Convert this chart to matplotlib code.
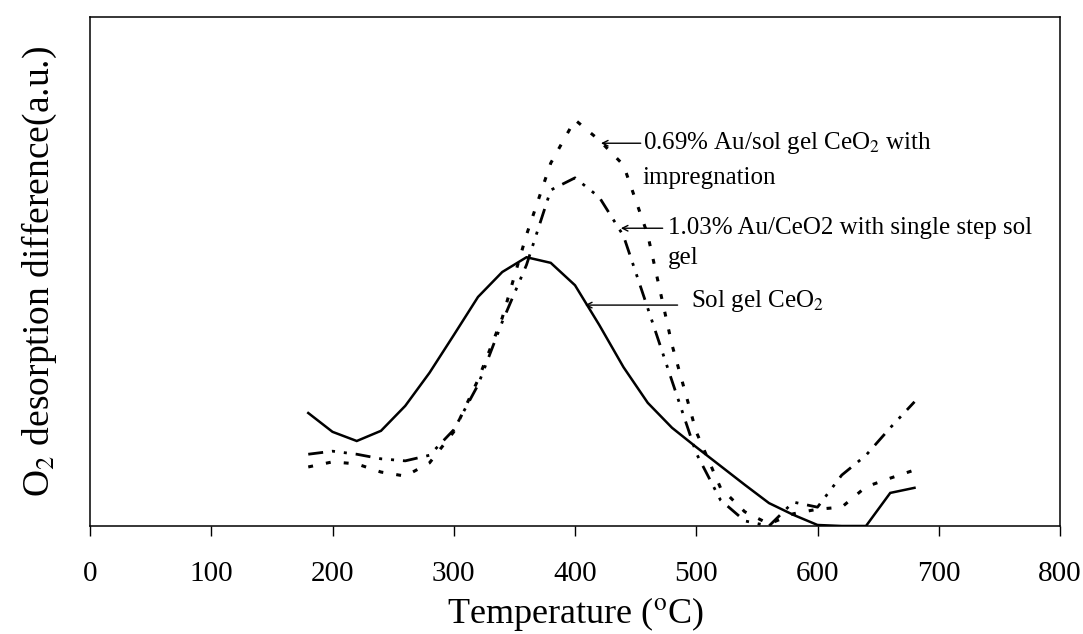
import matplotlib
matplotlib.use("Agg")
import matplotlib.pyplot as plt

plt.rcParams["font.family"] = ["Liberation Serif", "DejaVu Serif"]
plt.rcParams["mathtext.fontset"] = "stix"

# Temperature grid (deg C)
temperature = [180, 200, 220, 240, 260, 280, 300, 320, 340, 360, 380, 400, 420,
               440, 460, 480, 500, 520, 540, 560, 580, 600, 620, 640, 660, 680]

# O2 desorption difference (a.u.)
sol_gel_ceo2 = [22.2, 18.5, 16.7, 18.7, 23.6, 30.1, 37.5, 45.0, 49.9, 52.8, 51.7,
                47.3, 39.5, 31.2, 24.2, 19.3, 15.5, 11.8, 8.1, 4.5, 2.2, 0.2,
                0.0, 0.0, 6.5, 7.5]
au103_single_step = [14.1, 14.7, 14.1, 13.2, 12.8, 13.9, 18.9, 27.7, 40.1, 51.3,
                     66.0, 68.4, 64.6, 57.0, 42.8, 28.5, 14.3, 5.1, 1.0, 0.0,
                     4.7, 3.7, 10.0, 13.9, 19.3, 24.4]
au069_impregnation = [11.6, 12.6, 12.2, 10.6, 9.8, 12.4, 18.5, 28.7, 40.9, 57.2,
                      71.3, 79.8, 75.8, 70.9, 57.2, 35.6, 18.5, 7.5, 2.8, 0.4,
                      2.4, 3.3, 3.7, 7.7, 9.4, 11.0]

x_ticks = [0, 100, 200, 300, 400, 500, 600, 700, 800]

fig = plt.figure(figsize=(10.83, 6.34), dpi=100)
ax = fig.add_axes([90 / 1083, 1 - 526 / 634, (1060 - 90) / 1083, (526 - 17) / 634])

ax.plot(temperature, sol_gel_ceo2, color="black", lw=1.8, solid_joinstyle="miter")
ax.plot(temperature, au103_single_step, color="black", lw=2.0,
        dashes=(5.4, 3.2, 1.1, 3.2, 1.1, 3.2), dash_capstyle="butt")
ax.plot(temperature, au069_impregnation, color="black", lw=2.2,
        dashes=(1.6, 4.3), dash_capstyle="butt")

ax.set_xlim(0, 800)
ax.set_ylim(0, 100)
ax.set_xticks(x_ticks)
ax.set_xticklabels([str(t) for t in x_ticks], fontsize=21)
ax.set_yticks([])
ax.tick_params(axis="x", direction="out", length=7, width=1, pad=18)
for s in ax.spines.values():
    s.set_linewidth(1.1)

ax.set_xlabel(r"Temperature ($^{\rm o}$C)", fontsize=26, labelpad=6)
ax.set_ylabel(r"O$_2$ desorption difference(a.u.)", fontsize=27, labelpad=22)

arrow = dict(arrowstyle="->", color="black", lw=1.0, shrinkA=0, shrinkB=0)
fs = 18

ax.annotate("", xy=(421.4, 75.2), xytext=(454.2, 75.2), arrowprops=arrow)
ax.text(455.9, 75.2, r"0.69% Au/sol gel CeO$_2$ with", fontsize=fs, va="center", ha="left")
ax.text(455.9, 68.4, "impregnation", fontsize=fs, va="center", ha="left")

ax.annotate("", xy=(437.8, 58.5), xytext=(472.3, 58.5), arrowprops=arrow)
ax.text(476.4, 58.5, "1.03% Au/CeO2 with single step sol", fontsize=fs, va="center", ha="left")
ax.text(476.4, 52.6, "gel", fontsize=fs, va="center", ha="left")

ax.annotate("", xy=(408.2, 43.4), xytext=(484.6, 43.4), arrowprops=arrow)
ax.text(495.3, 44.2, r"Sol gel CeO$_2$", fontsize=fs, va="center", ha="left")

fig.savefig("out.png", dpi=100)
